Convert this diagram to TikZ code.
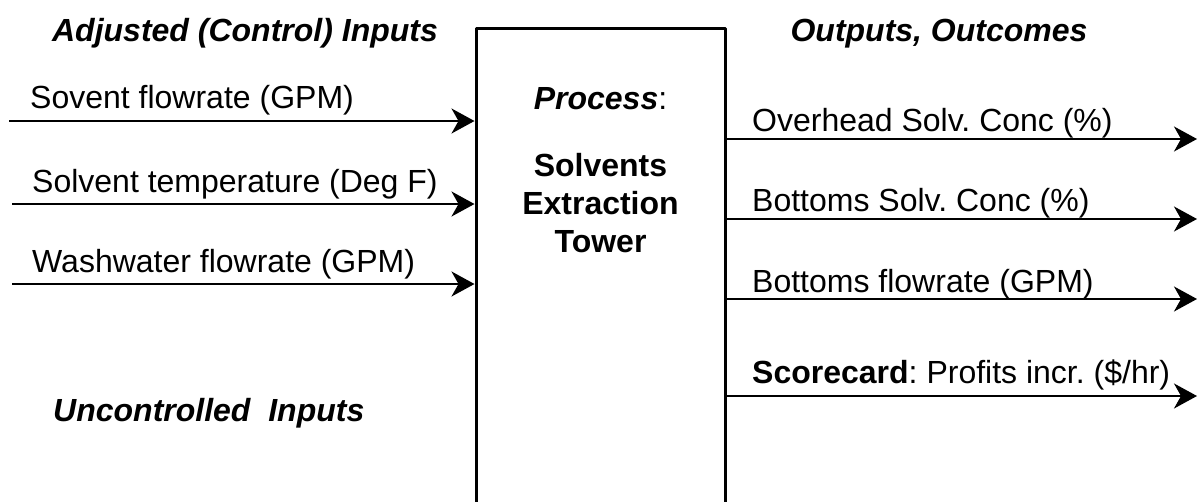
\documentclass[tikz,border=0pt]{standalone}
\usepackage{fontspec}
\setmainfont{Liberation Sans}
\usetikzlibrary{arrows.meta,positioning}
\frenchspacing
\begin{document}
\begin{tikzpicture}[x=1pt, y=-1pt, font=\fontsize{32}{38}\selectfont, line join=round,
	>={Stealth[length=23pt,width=25pt,inset=7pt]},
	flow/.style={->, line width=2pt},
	lab/.style={anchor=base west, inner sep=0pt},
	head/.style={anchor=base, inner sep=0pt, font=\fontsize{32}{38}\selectfont\bfseries\itshape}]
	\def\xmin{0} \def\xmax{1198}
	\def\ymin{0} \def\ymax{501}
	\clip (\xmin,\ymin) rectangle (\xmax,\ymax);
	% the tower, open at the bottom
	\node[draw, line width=3pt, minimum width=249pt, minimum height=540pt, anchor=north, inner sep=0pt] (tower) at (600.5,27) {};
	\node[anchor=base, inner sep=0pt] (proc) at (600.5,109) {\textbf{\textit{Process}}:};
	\node[anchor=base, inner sep=0pt, align=center, font=\fontsize{32}{38}\selectfont\bfseries] (unit) at (600.5,252) {Solvents\\Extraction\\Tower};
	% headings
	\node[head] (adj) at (245,41) {Adjusted (Control) Inputs};
	\node[head] (outc) at (939,41) {Outputs, Outcomes};
	\node[head, anchor=base west] (unc) at (53,421) {Uncontrolled\ \ Inputs};
	% inputs
	\coordinate (in1) at (9,121); \coordinate (in2) at (12,204); \coordinate (in3) at (12,284);
	\draw[flow] (in1) -- (tower.west |- in1);
	\draw[flow] (in2) -- (tower.west |- in2);
	\draw[flow] (in3) -- (tower.west |- in3);
	\node[lab] (solvflow) at (30,108) {Sovent flowrate (GPM)};
	\node[lab] (solvtemp) at (32,192) {Solvent temperature (Deg F)};
	\node[lab] (washflow) at (32,272) {Washwater flowrate (GPM)};
	% outputs
	\coordinate (out1) at (1197,139); \coordinate (out2) at (1197,219);
	\coordinate (out3) at (1197,299); \coordinate (out4) at (1197,396);
	\draw[flow] (tower.east |- out1) -- (out1);
	\draw[flow] (tower.east |- out2) -- (out2);
	\draw[flow] (tower.east |- out3) -- (out3);
	\draw[flow] (tower.east |- out4) -- (out4);
	\node[lab] (ovhd) at (752,131) {Overhead Solv. Conc (\%)};
	\node[lab] (btmconc) at (752,211) {Bottoms Solv. Conc (\%)};
	\node[lab] (btmflow) at (752,292) {Bottoms flowrate (GPM)};
	\node[lab] (score) at (752,383) {\textbf{Scorecard}: Profits incr. (\$/hr)};
\end{tikzpicture}
\end{document}
